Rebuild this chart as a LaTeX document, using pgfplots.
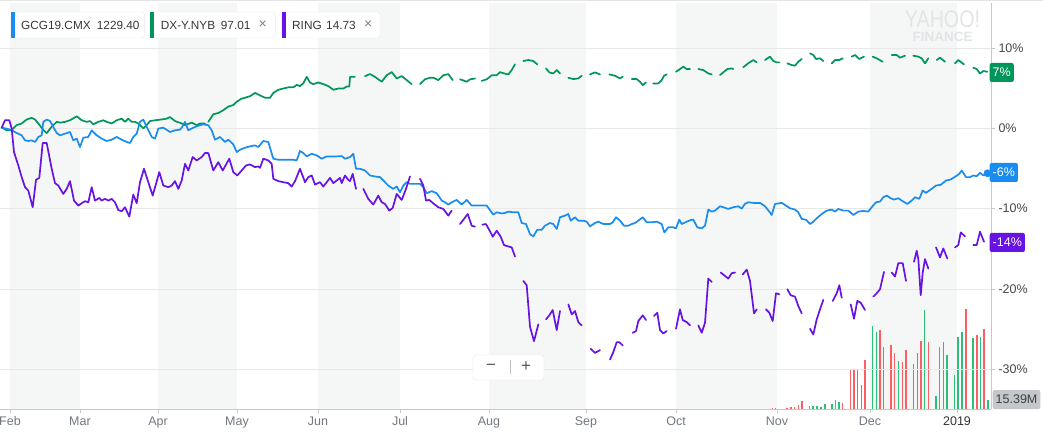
\documentclass[border=0pt]{standalone}
\usepackage{fontspec}
\setmainfont{Liberation Sans}
\usepackage{pgfplots}
\pgfplotsset{compat=1.18}
\definecolor{gcblue}{RGB}{24,140,240}
\definecolor{dxgreen}{RGB}{0,150,90}
\definecolor{ringpurple}{RGB}{104,18,228}
\definecolor{band}{RGB}{245,247,246}
\definecolor{gridc}{RGB}{232,232,232}
\definecolor{axisc}{RGB}{200,200,200}
\definecolor{tickc}{RGB}{115,120,128}
\definecolor{volred}{RGB}{250,95,100}
\definecolor{volgreen}{RGB}{45,190,120}
\definecolor{wm}{RGB}{226,229,231}
\begin{document}
\begin{tikzpicture}[x=1pt,y=1pt]
\fill[white] (0,0) rectangle (1043,434);
\path[use as bounding box] (0,0) rectangle (1043,434);
% background bands and volume
\begin{axis}[at={(0pt,25pt)}, anchor=south west, scale only axis,
  width=991pt, height=406pt, xmin=0, xmax=991, ymin=0, ymax=406, hide axis]
\fill[band] (axis cs:10,0) rectangle (axis cs:80,406);
\fill[band] (axis cs:158,0) rectangle (axis cs:237,406);
\fill[band] (axis cs:318,0) rectangle (axis cs:400,406);
\fill[band] (axis cs:489,0) rectangle (axis cs:586,406);
\fill[band] (axis cs:676,0) rectangle (axis cs:777,406);
\fill[band] (axis cs:870,0) rectangle (axis cs:957,406);
\addplot[ycomb, volred, line width=1.6pt] coordinates {
(772.3,1.3)(786.7,1)(790.7,1.7)(794.3,2.3)(798.3,4)(801.7,8.3)(809.3,2.7)(835.3,9.3)(842.3,6)
(850.3,39.7)(853.7,40.3)(864.7,49)(879.7,79)(890.7,64.3)(894.3,56.3)(902.3,47.3)(905.7,59.3)
(920.7,68.3)(928.3,67)(939.3,62.3)(965.7,100)(976.7,74.3)(983.7,80.3)};
\addplot[ycomb, volgreen, line width=1.6pt] coordinates {
(775.3,1.3)(812.7,3.3)(816.7,3.3)(820.7,1.7)(824.7,5.3)(832,5)(838.7,7.3)(857.3,39.7)(861.3,24.3)
(872.3,83.3)(876.3,77)(883.3,62)(898.3,48.3)(913.3,45.3)(917.3,56.3)(924.3,99)(935.7,13.3)
(943.3,67)(946.7,54)(954.3,34)(957.7,72.3)(961.7,77)(972.7,71.3)(980.3,72.3)(987.7,9)};
\end{axis}
% main chart
\begin{axis}[at={(0pt,25pt)}, anchor=south west, scale only axis,
  width=991pt, height=406pt, xmin=0, xmax=991, ymin=-34.95, ymax=15.6,
  axis x line*=bottom, axis y line*=right,
  axis line style={axisc, line width=0.8pt},
  xtick={10,80,158,237,318,400,489,586,676,777,870,957},
  xticklabels={Feb,Mar,Apr,May,Jun,Jul,Aug,Sep,Oct,Nov,Dec,{\color{black!80}2019}},
  ytick={-30,-20,-10,0,10},
  yticklabels={-30\%,-20\%,-10\%,0\%,10\%},
  tick align=outside, major tick length=4pt,
  tick style={axisc, line width=0.8pt},
  ymajorgrids, grid style={gridc, line width=0.8pt},
  x tick label style={font=\fontsize{12.5}{14}\selectfont, text=tickc},
  y tick label style={font=\fontsize{12.5}{14}\selectfont, text=black!72},
  unbounded coords=jump,
  every axis plot/.append style={line join=round, line cap=round}]
\addplot[dxgreen, line width=1.7pt] coordinates {
(1.7,0.1)(6.7,-0.25)(11.7,-0.2)(16.7,0.4)(21.7,0.6)(26.7,1.1)(31.7,1.3)(35,1.1)(38.3,0.6)(43.3,-0.2)
(46.7,-0.6)(51.7,0.2)(56.7,0.8)(60,0.7)(65,0.8)(70,1.0)(76.7,1.5)(81.7,1.0)(86.7,0.8)(90,0.9)
(93.3,0.5)(98.3,0.8)(103.3,1.0)(106.7,0.8)(111.7,0.6)(116.7,1.0)(121.7,1.2)(125,0.8)(128.3,1.2)
(131.7,0.8)(135,0.8)(138.3,0.6)(143.3,0.0)(146.7,0.4)(150,0.9)(155,1.0)(161.7,1.1)(166.7,1.2)
(170,1.4)(175,0.9)(181.7,0.6)(185,0.4)(191.7,0.7)(196.7,0.4)(200,0.6)(205,0.6)(207,nan)
(208.3,0.8)(213.3,1.75)(218.3,1.9)(223.3,2.25)(228.3,2.7)(233.3,2.9)(236.7,3.3)(241.7,3.7)
(245,3.8)(250,4.0)(255,4.4)(260,4.1)(265,3.8)(270,3.8)(273.3,4.4)(278.3,4.8)(283.3,4.95)
(288.3,5.1)(293.3,5.1)(296.7,5.4)(300,5.25)(303.3,5.6)(306.7,6.4)(310,5.7)(313.3,5.5)(318.3,5.7)
(323.3,5.5)(328.3,5.25)(333.3,4.8)(338.3,4.95)(343.3,4.95)(346.7,5.2)(349.3,5.2)(350,6.4)(355,6.4)
(360,nan)(365,6.5)(370,6.75)(375,6.4)(381.7,5.8)(386.7,6.6)(391.7,7.0)(396.7,6.2)(401.7,6.5)
(406.7,6.0)(411.7,5.5)(416,nan)(420,5.5)(425,6.1)(430,6.3)(433.3,6.3)(438.3,6.0)(443.3,6.6)
(448.3,6.75)(452.7,6.0)(456,nan)(460,6.1)(466.7,5.8)(470,6.1)(475,6.2)(478,nan)(481.7,5.9)
(486.7,6.1)(491.7,6.6)(496.7,6.6)(500,7.0)(504,6.83)(508.3,6.71)(511.7,7.25)(515,7.96)(519,nan)
(523.3,8.375)(528.3,8.5)(533.3,8.375)(537.3,7.96)(541,nan)(546,7.46)(549.3,6.96)(553.3,6.83)
(556.7,7.25)(560,6.83)(564,nan)(568.3,6.29)(573.3,6.125)(578.3,6.21)(581.7,6.54)(585,nan)
(590,6.71)(595,6.96)(600,6.71)(604,nan)(609.3,6.71)(615,6.54)(620,6.21)(622.7,6.42)(627,nan)
(631.7,6.125)(636.7,6.125)(640,5.79)(642.7,5.375)(646,5.71)(650,nan)(653.3,5.58)(658.3,5.58)
(661.7,6.0)(664,6.54)(666.7,6.71)(671,nan)(676,7.04)(680,7.375)(683.3,7.67)(686.7,7.375)(690,7.375)
(694,nan)(698.3,7.375)(703.3,7.25)(708.3,6.83)(711.7,6.71)(716,nan)(720,6.625)(724,7.04)
(727.3,7.375)(731.7,7.46)(733.3,7.375)(738,nan)(743.3,7.6)(748.3,8.1)(753.3,8.5)(756.7,8.21)
(761,nan)(765,8.5)(770,8.92)(773.3,8.375)(776.7,8.21)(779.3,8.21)(783,nan)(787.3,8.08)
(791.7,7.875)(795,7.79)(798.3,8.29)(801.7,8.625)(806,nan)(810,9.33)(813.3,9.125)(816,8.625)
(820,8.71)(823.3,8.375)(827,nan)(831.7,8.08)(835,8.5)(839.3,8.5)(842.7,8.71)(847,nan)(851.7,8.92)
(855,9.125)(859.3,8.625)(864,8.92)(868,nan)(872.7,8.92)(876.7,8.71)(882.7,8.29)(887,nan)
(891.7,9.125)(896.7,9.125)(900,8.79)(905,9.04)(909,nan)(913.3,9.04)(918.3,8.92)(921.7,8.71)
(925,8.08)(928.3,8.71)(932,nan)(936.7,8.5)(940,8.79)(945,8.29)(950,nan)(955,8.08)(958.3,8.5)
(964,7.96)(968,nan)(973.3,7.54)(976.7,7.375)(980,6.83)(983.3,7.125)(987.3,7.04)};
\addplot[gcblue, line width=1.7pt] coordinates {
(1.7,0.08)(6.7,-0.04)(11.7,-0.25)(16.7,-0.58)(21.7,-0.875)(25,-1.5)(28.3,-1.58)(31.7,-1.5)(35,-1.7)
(38.3,-1.08)(41.7,-0.875)(43.3,0.8)(46.7,1.08)(50,0.92)(53.3,0.17)(56.7,-0.58)(60,-0.875)(65,-0.67)
(70,-0.46)(73.3,-1.5)(76.7,-1.29)(80,-2.33)(83.3,-1.17)(88.3,-1.08)(91.7,-0.25)(96.7,-0.875)
(101.7,-1.29)(106.7,-1.58)(111.7,-1.42)(116.7,-1.08)(121.7,-1.42)(126.7,-1.7)(130,-1.83)
(133.3,-1.08)(136.7,-0.67)(140,0.8)(143.3,1.08)(146.7,0.17)(151.7,-1.08)(155,-1.29)(158.3,-0.04)
(163.3,0.08)(170,-0.46)(175,-0.25)(180,-0.17)(181.7,0.08)(185,0.8)(188.3,-0.25)(193.3,0.08)
(196.7,0.25)(203.3,0.5)(208.3,0.375)(211.7,-0.25)(215,-1.42)(220,-1.08)(225,-1.7)(228.3,-1.42)
(233.3,-2.0)(236.7,-2.96)(240,-2.67)(245,-2.42)(250,-2.25)(255,-2.125)(258.3,-2.33)(263.3,-1.58)
(268.3,-1.71)(273.3,-3.79)(278.3,-3.92)(283.3,-3.92)(288.3,-3.92)(293.3,-3.92)(296.7,-4.0)
(300,-2.83)(303.3,-3.08)(306.7,-3.5)(311.7,-3.17)(316.7,-3.375)(321.7,-3.79)(326.7,-3.5)
(331.7,-3.5)(336.7,-3.5)(341.7,-3.46)(345,-3.79)(350,-3.58)(353.3,-3.17)(356,-5.04)(360,-5.04)
(365,-5.25)(370,-5.875)(375,-6.0)(380,-6.08)(383.3,-6.5)(388.3,-7.125)(393.3,-7.54)(396.7,-7.25)
(400,-7.96)(403.3,-7.125)(406.7,-6.71)(410,-6.92)(415,-6.92)(420,-6.92)(423.3,-7.33)(426.7,-8.08)
(431.7,-7.83)(436.7,-8.08)(441.7,-9.0)(445,-9.21)(448.3,-9.5)(451.7,-9.21)(456.7,-8.92)(461.7,-9.5)
(466.7,-8.92)(471.7,-9.625)(476.7,-9.625)(481.7,-9.625)(486.7,-9.625)(493.3,-10.75)(496.7,-10.46)
(501.7,-10.6)(505,-10.54)(508.3,-10.375)(513.3,-10.46)(518.3,-10.46)(521.7,-11.79)(526,-11.92)
(530,-13.17)(533.3,-13.46)(537.3,-12.625)(541.7,-12.625)(545,-12.125)(550,-11.79)(553.3,-11.92)
(556.7,-12.54)(560,-11.08)(565,-10.875)(568.3,-10.67)(570.7,-11.5)(575,-11.08)(578.3,-11.5)
(583.3,-11.5)(586.7,-11.625)(590,-12.21)(595,-11.79)(598.3,-11.625)(603.3,-11.92)(610,-11.92)
(612.7,-11.71)(616,-11.08)(620,-11.5)(624,-12.125)(628.3,-12.125)(631.7,-11.92)(635,-11.79)
(638.3,-11.5)(642.7,-11.08)(646.7,-11.71)(651.7,-11.71)(656.7,-11.625)(661.7,-11.92)(664.3,-12.96)
(668.3,-12.33)(673.3,-12.33)(676,-12.46)(679.3,-11.375)(681.7,-11.92)(686.7,-11.625)(691.7,-11.375)
(693.3,-11.375)(697.3,-12.33)(701.7,-12.46)(705,-12.125)(708.3,-10.125)(711.7,-10.375)(715,-10.25)
(720,-9.71)(723.3,-9.83)(728.3,-10.04)(733.3,-9.83)(738.3,-9.71)(741.7,-10.0)(745,-9.4)(748.3,-9.21)
(753.3,-9.29)(760,-9.29)(765,-9.71)(769.3,-10.375)(771.7,-10.79)(775,-9.42)(781.7,-9.29)(785,-9.54)
(790,-9.96)(795,-10.125)(798.3,-10.46)(801.7,-11.29)(806,-11.375)(810,-11.92)(813.3,-11.625)
(816.7,-11.21)(821.7,-10.67)(826.7,-10.25)(831.7,-10.125)(835,-10.375)(838.3,-10.04)(843.3,-10.25)
(848.3,-10.25)(853.3,-10.79)(858.3,-10.375)(863.3,-10.29)(868.3,-10.375)(871.7,-9.83)(876,-9.21)
(880,-9.125)(883.3,-8.58)(886.7,-8.375)(890.7,-8.71)(894,-8.875)(898.3,-8.71)(903.3,-9.125)
(907.3,-9.42)(911.7,-9.0)(915,-8.58)(919.3,-8.79)(922.7,-7.75)(926,-8.04)(930.7,-7.625)(936,-7.125)
(940.7,-7.04)(946,-6.5)(950.7,-6.375)(956,-5.96)(959.3,-5.67)(961.7,-5.25)(966,-6.08)(970,-6.08)
(973.3,-5.875)(976.7,-5.96)(980,-5.54)(983.3,-5.875)(987.5,-5.6)};
\addplot[ringpurple, line width=1.7pt] coordinates {
(1.7,0.08)(5,1.0)(9.3,1.0)(11.7,-0.04)(14,-2.96)(18.3,-4.625)(21.7,-6.08)(25,-7.33)(28.3,-7.75)
(32.7,-9.83)(36,-6.42)(39.3,-6.17)(42.7,-1.83)(46.7,-1.83)(51.7,-5.04)(55,-6.83)(58.3,-7.125)
(63.3,-8.17)(66.7,-7.54)(70,-6.58)(74,-9.0)(78.3,-9.625)(81.7,-9.33)(85,-9.08)(88.3,-9.21)
(91.7,-7.33)(95,-9.0)(99.3,-8.67)(101.7,-9.0)(105,-8.79)(108.3,-9.0)(111.7,-8.79)(115,-9.21)
(118.3,-10.17)(121.7,-10.33)(125,-9.83)(129.3,-11.0)(133.3,-8.25)(136.7,-9.33)(140,-6.71)(144,-5.04)
(148.3,-6.71)(152.7,-8.375)(156,-6.92)(159.3,-5.46)(163.3,-7.125)(168.3,-7.33)(171.7,-7.125)
(175,-6.58)(178.3,-7.54)(181.7,-6.5)(185,-4.42)(188.3,-5.25)(192.7,-3.58)(196.7,-4.0)(201.7,-3.58)
(205,-3.08)(208.3,-3.08)(213.3,-5.25)(218.3,-4.21)(222.7,-5.25)(229.3,-3.79)(233.3,-5.46)
(237.3,-5.875)(241.7,-5.25)(246,-4.625)(250,-4.5)(255,-4.83)(258.3,-4.75)(260,-4.92)(263.3,-3.79)
(268.3,-4.0)(271.7,-4.42)(273.3,-6.29)(278.3,-6.58)(283.3,-6.71)(288.3,-6.83)(291.7,-7.25)(295,-6.58)
(300,-5.04)(305,-6.71)(308.3,-6.08)(311.7,-5.875)(315,-7.0)(320,-6.71)(323.3,-7.25)(326.7,-6.71)
(330,-6.17)(333.3,-6.83)(336.7,-6.5)(340,-6.17)(341.7,-6.83)(345,-5.875)(348.3,-6.42)(350,-6.58)
(352.7,-5.67)(356,-7.54)(359,nan)(363.3,-7.54)(368.3,-8.79)(373.3,-9.5)(378.3,-8.375)(381.7,-9.21)
(385,-9.42)(389.3,-10.25)(392.7,-9.92)(396.7,-8.17)(401.7,-8.92)(406,-7.54)(410,-6.0)(415,nan)
(420,-6.29)(423.3,-7.125)(426,-9.0)(429.3,-8.92)(434,-9.42)(438.3,-9.83)(443.3,-10.04)(448.3,-10.875)
(451.7,-10.25)(456,nan)(460,-11.92)(464,-11.29)(467.7,-10.67)(471.7,-12.125)(475,-12.25)(479,nan)
(482.3,-12.0)(486,-11.92)(490,-12.83)(492.7,-13.5)(496.7,-12.75)(500.7,-13.5)(504,-14.54)
(508.3,-14.71)(511.7,-14.83)(515,-15.96)(519,nan)(523.3,-19.0)(526.7,-19.54)(530,-24.71)(534,-26.5)
(538.3,-24.42)(542,nan)(546,-23.79)(549.3,-23.29)(552.7,-22.625)(556.7,-25.125)(560,-22.75)(564,nan)
(568.3,-21.92)(571.7,-23.17)(575,-22.75)(578.3,-24.125)(581.7,-24.54)(586,nan)(590.7,-27.46)
(595,-27.96)(600,-27.625)(605,nan)(610,-28.79)(613.3,-27.875)(616.7,-26.625)(619.3,-26.625)
(622.7,-27.04)(627,nan)(632.7,-25.46)(636,-25.25)(638.3,-24.0)(642.7,-23.29)(646,-23.875)(650,nan)
(654,-23.375)(657.3,-22.96)(660,-25.125)(663.3,-25.54)(666.7,-25.25)(671,nan)(676,-24.96)(680,-22.54)
(682.7,-23.875)(686.7,-24.125)(690,-24.54)(694,nan)(698.3,-24.54)(701.7,-25.46)(705,-24.21)
(708.3,-18.71)(711.7,-19.125)(716,nan)(720.7,-17.96)(724,-18.29)(728.3,-18.71)(731.7,-18.04)
(735,-17.96)(739,nan)(742.7,-18.2)(746.7,-17.6)(750,-19.0)(754,-23.04)(756.7,-22.54)(761,nan)
(766,-22.54)(769.3,-22.96)(772.7,-24.0)(776,-20.54)(779.3,-20.67)(783,nan)(787.3,-20.04)
(790.7,-20.79)(795,-20.96)(798.3,-22.125)(801.7,-23.04)(806,nan)(810,-24.96)(813.3,-25.67)
(816.7,-23.79)(820,-22.54)(823.3,-21.375)(828,nan)(832.7,-21.5)(836.7,-20.54)(839.3,-19.54)
(841.7,-21.08)(846,nan)(850.7,-21.92)(854,-23.71)(857.3,-21.5)(860.7,-21.71)(865,-22.625)(869,nan)
(873.3,-20.96)(876.7,-20.54)(880,-20.04)(884,-17.875)(888,nan)(891.7,-17.96)(895,-18.46)
(898.3,-16.79)(902.7,-16.79)(906,-19.0)(910,nan)(914,-16.625)(916.7,-15.25)(918.3,-16.29)
(920.7,-20.79)(922.7,-17.96)(925,-16.29)(928.3,-17.46)(932,nan)(936,-14.83)(940,-16.08)
(943.3,-14.96)(947.3,-16.21)(951,nan)(955,-14.83)(958.3,-14.54)(960.7,-12.96)(965,-13.46)(969,nan)
(973.3,-14.54)(976.7,-14.54)(980,-12.875)(984,-14.125)};
\addplot[only marks, mark=*, gcblue, mark size=3.6pt] coordinates {(987.5,-5.6)};
\end{axis}
% top border
\draw[black!10, line width=1pt] (0,433.5) -- (1043,433.5);
% watermark
\node[text=wm, font=\fontsize{24}{24}\selectfont, xscale=0.82, inner sep=0] at (942.5,415) {YAHOO!};
\node[text=wm, font=\bfseries\fontsize{13.5}{14}\selectfont, inner sep=0] at (942.5,397) {FINANCE};
% legend chips
\draw[black!9, fill=white, rounded corners=2.5pt] (11,396) rectangle (144.3,422);
\fill[gcblue] (11,396) rectangle (15,422);
\node[anchor=west, inner sep=0, text=black!78, font=\fontsize{11.8}{13}\selectfont] at (21,409) {GCG19.CMX};
\node[anchor=west, inner sep=0, text=black!78, font=\fontsize{11.8}{13}\selectfont] at (96.7,409) {1229.40};
\draw[black!9, fill=white, rounded corners=2.5pt] (150,396) rectangle (275.3,422);
\fill[dxgreen] (150,396) rectangle (154,422);
\node[anchor=west, inner sep=0, text=black!78, font=\fontsize{11.8}{13}\selectfont] at (160.7,409) {DX-Y.NYB};
\node[anchor=west, inner sep=0, text=black!78, font=\fontsize{11.8}{13}\selectfont] at (220.7,409) {97.01};
\node[anchor=west, inner sep=0, text=black!50, font=\fontsize{14}{14}\selectfont] at (258.5,409.5) {×};
\draw[black!9, fill=white, rounded corners=2.5pt] (281.5,396) rectangle (380,422);
\fill[ringpurple] (281.5,396) rectangle (286,422);
\node[anchor=west, inner sep=0, text=black!78, font=\fontsize{11.8}{13}\selectfont] at (292,409) {RING};
\node[anchor=west, inner sep=0, text=black!78, font=\fontsize{11.8}{13}\selectfont] at (326,409) {14.73};
\node[anchor=west, inner sep=0, text=black!50, font=\fontsize{14}{14}\selectfont] at (364,409.5) {×};
% value badges
\node[anchor=west, fill=dxgreen, text=white, rounded corners=2pt, inner xsep=3pt, minimum height=19pt, font=\fontsize{12.5}{14}\selectfont] at (989.5,361.5) {7\%};
\node[anchor=west, fill=gcblue, text=white, rounded corners=2pt, inner xsep=3pt, minimum height=19pt, font=\fontsize{12.5}{14}\selectfont] at (989.5,261.5) {-6\%};
\node[anchor=west, fill=ringpurple, text=white, rounded corners=2pt, inner xsep=3pt, minimum height=19pt, font=\fontsize{12.5}{14}\selectfont] at (989.5,191.5) {-14\%};
\node[anchor=west, fill={rgb,255:red,196;green,199;blue,204}, text=black!75, rounded corners=2pt, inner xsep=3pt, minimum height=19pt, font=\fontsize{12.5}{14}\selectfont] at (992.5,34.5) {15.39M};
% zoom control
\draw[black!10, fill=white, rounded corners=3pt] (473,54) rectangle (544,79);
\draw[black!25, line width=0.8pt] (510,60) -- (510,74);
\node[text=black!65, font=\fontsize{17}{17}\selectfont, inner sep=0] at (491,67) {−};
\node[text=black!65, font=\fontsize{17}{17}\selectfont, inner sep=0] at (526,67) {+};
\end{tikzpicture}
\end{document}
